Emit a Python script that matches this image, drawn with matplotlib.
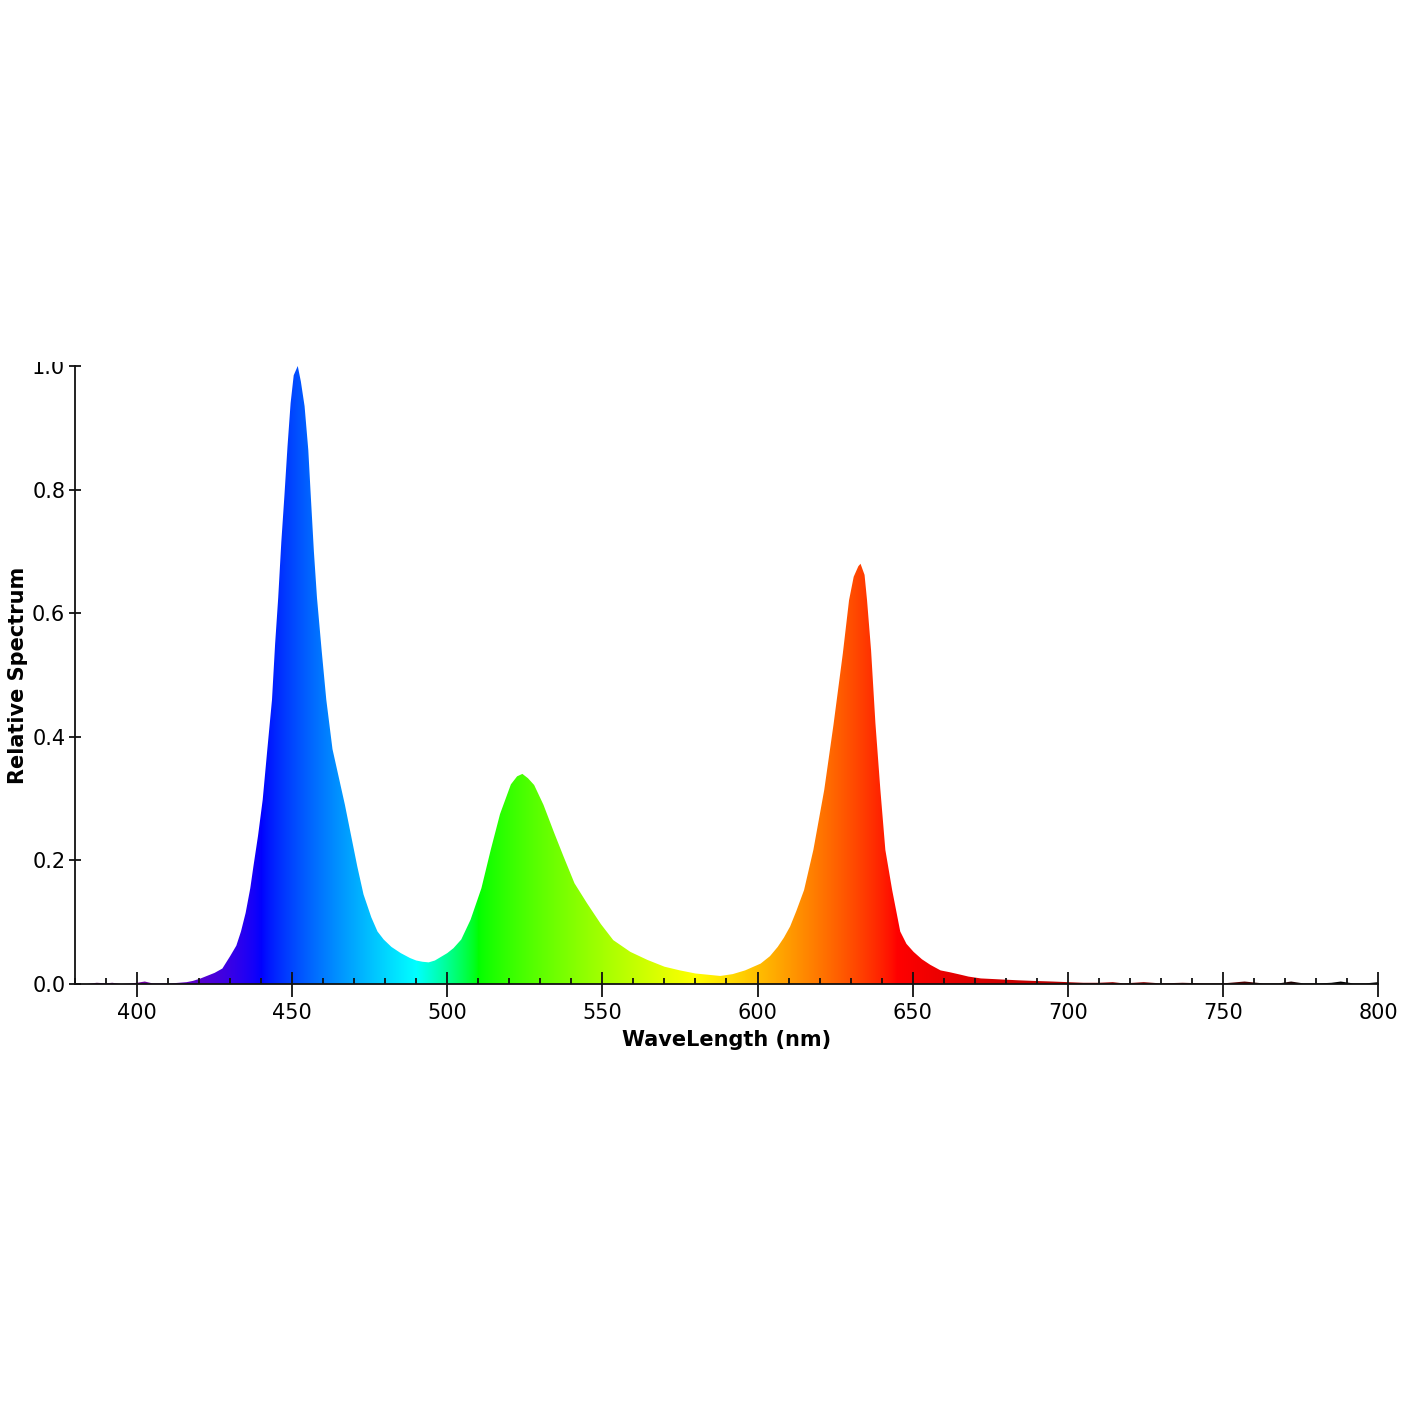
import numpy as np
import matplotlib
matplotlib.use("Agg")
import matplotlib.pyplot as plt
from matplotlib.patches import Polygon
from matplotlib.transforms import Bbox, TransformedBbox
from matplotlib.ticker import MultipleLocator

wavelength_nm = [380, 384, 387, 390, 392, 395, 398, 400, 402.5, 405, 408, 411, 413.5, 416, 418,
                 420.5, 423, 425, 427.5, 430, 432, 433.5, 435, 436.5, 437.5, 439, 440.5, 442, 443.5,
                 444.5, 445.5, 446.5, 447.5, 448.5, 449.5, 450.5, 451.8, 452.8, 454, 455.2, 456, 457,
                 458, 459.5, 461, 463, 465, 467, 469, 471, 473, 475.5, 477.5, 479.5, 482, 485, 488,
                 490, 492, 494, 496, 498, 500, 502, 504.5, 507.5, 511, 514, 517, 520.5, 522.5, 524.2,
                 526, 528, 531, 534.5, 537.5, 541, 545, 549.5, 553.5, 559, 564.5, 570, 575, 580, 584,
                 588, 592, 596, 601, 604, 606.5, 608.5, 610.5, 612.5, 615, 618, 621.5, 624.5, 627.5,
                 629.5, 631, 632.5, 633.2, 634.5, 635.3, 636.6, 638, 639.6, 641.2, 643.4, 646, 648,
                 650.3, 653, 655.7, 659, 662, 665.5, 668, 672, 676, 680, 684, 689, 695, 700, 705, 710,
                 714.5, 718, 724.5, 730, 737, 744, 750, 757, 763, 768, 772, 776, 781, 785, 788, 792,
                 796, 800]

relative_spectrum = [0.0, 0.0, 0.002, 0.001, 0.002, 0.0, 0.001, 0.002, 0.004, 0.001, 0.001, 0.001,
                     0.002, 0.003, 0.005, 0.009, 0.014, 0.018, 0.025, 0.045, 0.062, 0.085, 0.115,
                     0.155, 0.19, 0.24, 0.298, 0.38, 0.46, 0.55, 0.625, 0.715, 0.79, 0.87, 0.94,
                     0.985, 1.0, 0.975, 0.935, 0.864, 0.79, 0.70, 0.625, 0.54, 0.46, 0.38, 0.335,
                     0.29, 0.24, 0.19, 0.145, 0.108, 0.085, 0.072, 0.06, 0.05, 0.042, 0.038, 0.036,
                     0.035, 0.038, 0.044, 0.050, 0.058, 0.072, 0.104, 0.155, 0.217, 0.275, 0.323,
                     0.336, 0.340, 0.333, 0.322, 0.29, 0.244, 0.206, 0.163, 0.131, 0.097, 0.071,
                     0.052, 0.039, 0.028, 0.022, 0.017, 0.015, 0.013, 0.016, 0.022, 0.033, 0.045,
                     0.060, 0.075, 0.093, 0.118, 0.152, 0.217, 0.314, 0.42, 0.535, 0.621, 0.659,
                     0.676, 0.680, 0.662, 0.621, 0.54, 0.422, 0.314, 0.217, 0.152, 0.085, 0.065,
                     0.052, 0.040, 0.031, 0.022, 0.019, 0.015, 0.012, 0.009, 0.008, 0.007, 0.006,
                     0.005, 0.004, 0.003, 0.002, 0.002, 0.003, 0.001, 0.003, 0.001, 0.002, 0.001,
                     0.001, 0.004, 0.001, 0.001, 0.004, 0.001, 0.001, 0.002, 0.004, 0.001, 0.001,
                     0.003]

x_ticks = [400, 450, 500, 550, 600, 650, 700, 750, 800]
y_ticks = [0.0, 0.2, 0.4, 0.6, 0.8, 1.0]

assert len(wavelength_nm) == len(relative_spectrum)


def wavelength_to_rgb(w, gamma=0.8):
    if w < 380:
        w = 380.0
    if 380 <= w <= 440:
        att = 0.3 + 0.7 * (w - 380) / 60.0
        r = ((-(w - 440) / 60.0) * att) ** gamma
        g = 0.0
        b = att ** gamma
    elif w <= 490:
        r, g, b = 0.0, ((w - 440) / 50.0) ** gamma, 1.0
    elif w <= 510:
        r, g, b = 0.0, 1.0, (-(w - 510) / 20.0) ** gamma
    elif w <= 580:
        r, g, b = ((w - 510) / 70.0) ** gamma, 1.0, 0.0
    elif w <= 645:
        r, g, b = 1.0, (-(w - 645) / 65.0) ** gamma, 0.0
    elif w <= 750:
        att = 0.3 + 0.7 * (750 - w) / 105.0
        r, g, b = att ** gamma, 0.0, 0.0
    elif w <= 780:
        att = 0.3 * (780 - w) / 30.0
        r, g, b = max(att, 0) ** gamma, 0.0, 0.0
    else:
        r, g, b = 0.0, 0.0, 0.0
    return (r, g, b)


fig = plt.figure(figsize=(14.2, 14.2), dpi=100)
ax = fig.add_axes([75 / 1420, 1 - 984 / 1420, (1378 - 75) / 1420, (984 - 366) / 1420])

xmin, xmax = 380, 800
grid = np.linspace(xmin, xmax, 1200)
img = np.array([wavelength_to_rgb(w) for w in grid])[None, :, :]

verts = [(wavelength_nm[0], 0)] + list(zip(wavelength_nm, relative_spectrum)) + [(wavelength_nm[-1], 0)]
patch = Polygon(verts, closed=True, facecolor='none', edgecolor='none')
ax.add_patch(patch)
im = ax.imshow(img, extent=(xmin, xmax, 0, 1.0), aspect='auto', origin='lower',
               interpolation='bilinear')
im.set_clip_path(patch)

ax.set_xlim(xmin, xmax)
ax.set_ylim(0, 1.0)

for s in ['top', 'right']:
    ax.spines[s].set_visible(False)
for s in ['left', 'bottom']:
    ax.spines[s].set_linewidth(1.3)
    ax.spines[s].set_color('#111111')

ax.set_xticks(x_ticks)
ax.set_yticks(y_ticks)
ax.set_yticklabels([f"{v:.1f}" for v in y_ticks])
ax.xaxis.set_minor_locator(MultipleLocator(10))
ax.tick_params(axis='x', which='major', direction='inout', length=18, width=1.3,
               labelsize=15, pad=5, color='#111111')
ax.tick_params(axis='x', which='minor', direction='in', length=4, width=1.3, color='#111111')
ax.tick_params(axis='y', which='major', direction='inout', length=8, width=1.3,
               labelsize=15, pad=3, color='#111111')

ax.set_xlabel("WaveLength (nm)", fontsize=15, fontweight='bold', labelpad=5)
ax.set_ylabel("Relative Spectrum", fontsize=15, fontweight='bold', labelpad=3)

clip = TransformedBbox(Bbox([[0, 0], [1, 1 - 361.5 / 1420]]), fig.transFigure)
for t in ax.yaxis.get_major_ticks():
    t.label1.set_clip_box(clip)
    t.label1.set_clip_on(True)

fig.savefig("out.png", dpi=100)
